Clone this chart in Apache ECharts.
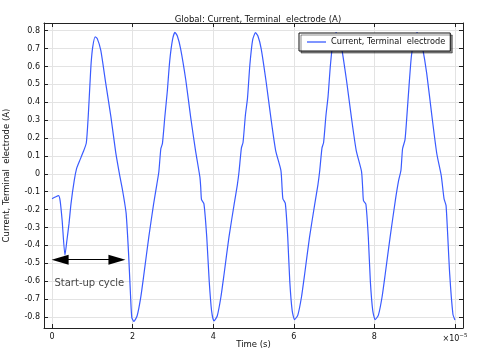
<!DOCTYPE html>
<html><head><meta charset="utf-8">
<script src="https://cdn.jsdelivr.net/npm/echarts@6/dist/echarts.min.js"></script>
<style>html,body{margin:0;padding:0;background:#fff}#c{width:480px;height:354px}</style>
</head><body><div id="c"></div>
<script>
const seriesName = 'Current, Terminal  electrode';
const titleText = 'Global: Current, Terminal  electrode (A)';
const xAxisName = 'Time (s)';
const yAxisName = 'Current, Terminal  electrode (A)';
const annotationText = 'Start-up cycle';
const xTicks = [0, 2, 4, 6, 8, 10];
const yTicks = [-0.8, -0.7, -0.6, -0.5, -0.4, -0.3, -0.2, -0.1, 0, 0.1, 0.2, 0.3, 0.4, 0.5, 0.6, 0.7, 0.8];
// time in units of 1e-5 s
const timeData = [
  0.00, 0.08, 0.16, 0.20, 0.25, 0.32, 0.37, 0.42, 0.47, 0.55, 0.61, 0.68, 0.77, 0.85, 0.90, 0.94, 0.97, 1.01, 1.07, 1.12, 1.21, 1.33, 1.46, 1.58, 1.68, 1.74, 1.80, 1.84, 1.90, 1.95, 1.98,
  2.03, 2.11, 2.20, 2.28, 2.40, 2.52, 2.60, 2.65, 2.70, 2.74, 2.80, 2.86, 2.92, 2.99, 3.05, 3.11, 3.19, 3.32, 3.44, 3.56, 3.67, 3.69, 3.71, 3.77, 3.84, 3.90, 3.96,
  4.02, 4.10, 4.19, 4.27, 4.39, 4.52, 4.60, 4.64, 4.70, 4.74, 4.80, 4.85, 4.91, 4.98, 5.05, 5.11, 5.19, 5.31, 5.43, 5.55, 5.68, 5.71, 5.73, 5.79, 5.85, 5.90, 5.96,
  6.02, 6.10, 6.19, 6.27, 6.39, 6.52, 6.60, 6.64, 6.70, 6.74, 6.80, 6.85, 6.91, 6.98, 7.05, 7.11, 7.19, 7.31, 7.43, 7.55, 7.68, 7.71, 7.73, 7.79, 7.85, 7.90, 7.96,
  8.02, 8.10, 8.19, 8.27, 8.39, 8.52, 8.60, 8.66, 8.70, 8.76, 8.80, 8.86, 8.92, 8.99, 9.06, 9.12, 9.20, 9.30, 9.43, 9.55, 9.66, 9.73, 9.78, 9.87, 9.95, 10.00
];
const currentData = [
  -0.139, -0.130, -0.122, -0.150, -0.260, -0.455, -0.370, -0.280, -0.168, -0.038, 0.030, 0.070, 0.120, 0.172, 0.330, 0.500, 0.620, 0.710, 0.766, 0.757, 0.690, 0.510, 0.320, 0.120, -0.010, -0.080, -0.160, -0.224, -0.449, -0.692, -0.804,
  -0.825, -0.795, -0.692, -0.561, -0.355, -0.170, -0.060, 0.010, 0.140, 0.170, 0.320, 0.460, 0.630, 0.750, 0.791, 0.770, 0.700, 0.523, 0.317, 0.131, -0.019, -0.075, -0.145, -0.168, -0.355, -0.598, -0.767,
  -0.823, -0.795, -0.690, -0.560, -0.355, -0.170, -0.060, 0.010, 0.145, 0.175, 0.330, 0.420, 0.610, 0.750, 0.789, 0.770, 0.700, 0.520, 0.315, 0.130, 0.019, -0.080, -0.140, -0.165, -0.355, -0.600, -0.765,
  -0.815, -0.790, -0.690, -0.560, -0.355, -0.170, -0.060, 0.010, 0.145, 0.175, 0.330, 0.430, 0.610, 0.750, 0.790, 0.770, 0.700, 0.520, 0.315, 0.130, 0.015, -0.080, -0.150, -0.170, -0.355, -0.600, -0.765,
  -0.815, -0.790, -0.690, -0.560, -0.355, -0.150, -0.040, 0.020, 0.140, 0.190, 0.300, 0.490, 0.660, 0.750, 0.790, 0.770, 0.700, 0.560, 0.320, 0.112, -0.010, -0.140, -0.178, -0.561, -0.785, -0.817
];
// arrow symbol centres (heads are centred on these points)
const arrowStart = [0.2, -0.48];
const arrowEnd = [1.61, -0.48];
const annotationPos = [0.06, -0.615];

const FONT = 'DejaVu Sans';
const chart = echarts.init(document.getElementById('c'), null, {renderer: 'canvas'});
const pairs = timeData.map((t, i) => [t, currentData[i]]);
const xMin = -0.2, xMax = 10.2, yMin = -0.862, yMax = 0.843;
const gridLine = {show: true, lineStyle: {color: '#e3e3e3', width: 1}};
const axisLine = {show: true, onZero: false, lineStyle: {color: '#222', width: 1}};
chart.setOption({
  animation: false,
  backgroundColor: '#fff',
  title: {text: titleText, left: 253, top: 10, textAlign: 'center',
    textStyle: {fontFamily: FONT, fontSize: 8.5, fontWeight: 'normal', color: '#111'}},
  legend: {data: [{name: seriesName, icon: 'rect'}], left: 299, top: 33, orient: 'vertical',
    padding: [5, 5, 5, 8], itemWidth: 19, itemHeight: 1.3, itemGap: 4,
    itemStyle: {color: '#3a5bff', borderWidth: 0},
    backgroundColor: '#fff', borderColor: '#111', borderWidth: 1, borderRadius: 0,
    shadowColor: 'rgba(0,0,0,0.45)', shadowOffsetX: 2, shadowOffsetY: 2, shadowBlur: 0,
    textStyle: {fontFamily: FONT, fontSize: 8.2, color: '#111', padding: [4, 0, 4, 0]}},
  grid: {left: 44, right: 17, top: 23, bottom: 26, containLabel: false, outerBoundsMode: 'none'},
  xAxis: [{
    type: 'value', min: xMin, max: xMax, position: 'bottom', splitNumber: 5,
    name: xAxisName, nameLocation: 'middle', nameGap: 12, nameMoveOverlap: false,
    nameTextStyle: {fontFamily: FONT, fontSize: 8.5, color: '#111'},
    axisLine: axisLine,
    axisTick: {show: true, inside: true, length: 4, customValues: xTicks, lineStyle: {color: '#222'}},
    axisLabel: {show: true, margin: 5, customValues: xTicks, fontFamily: FONT, fontSize: 8, color: '#111',
      formatter: v => v === 10 ? '{a|×10}{s|−5}' : String(v),
      rich: {a: {fontFamily: FONT, fontSize: 8, color: '#111'}, s: {fontFamily: FONT, fontSize: 5.5, color: '#111', verticalAlign: 'top', padding: [0, 0, 6, 0]}}},
    splitLine: gridLine
  }, {
    type: 'value', min: xMin, max: xMax, position: 'top', splitNumber: 5,
    axisLine: axisLine,
    axisTick: {show: true, inside: true, length: 4, customValues: xTicks, lineStyle: {color: '#222'}},
    axisLabel: {show: false}, splitLine: {show: false}
  }],
  yAxis: [{
    type: 'value', min: yMin, max: yMax, position: 'left', splitNumber: 17,
    name: yAxisName, nameLocation: 'middle', nameGap: 33, nameRotate: 90,
    nameTextStyle: {fontFamily: FONT, fontSize: 8.5, color: '#111'},
    axisLine: axisLine,
    axisTick: {show: true, inside: true, length: 4, customValues: yTicks, lineStyle: {color: '#222'}},
    axisLabel: {show: true, margin: 4, customValues: yTicks, fontFamily: FONT, fontSize: 8, color: '#111',
      formatter: v => String(Math.round(v * 10) / 10)},
    splitLine: gridLine
  }, {
    type: 'value', min: yMin, max: yMax, position: 'right', splitNumber: 17,
    axisLine: axisLine,
    axisTick: {show: true, inside: true, length: 4, customValues: yTicks, lineStyle: {color: '#222'}},
    axisLabel: {show: false}, splitLine: {show: false}
  }],
  series: [{
    name: seriesName, type: 'line', data: pairs, xAxisIndex: 0, yAxisIndex: 0,
    showSymbol: false, symbol: 'none', smooth: 0.2,
    lineStyle: {color: '#3a5bff', width: 1.2}, itemStyle: {color: '#3a5bff'},
    markLine: {
      silent: true, symbol: ['triangle', 'triangle'], symbolSize: [10, 17],
      lineStyle: {color: '#000', width: 1, type: 'solid'}, itemStyle: {color: '#000'},
      label: {show: false},
      data: [[{coord: arrowStart}, {coord: arrowEnd}]]
    }
  }, {
    name: 'annotation', type: 'scatter', data: [annotationPos], symbolSize: 0,
    silent: true,
    label: {show: true, position: 'right', distance: 0, formatter: annotationText,
      fontFamily: FONT, fontSize: 10, color: '#111'}
  }]
});
</script></body></html>
